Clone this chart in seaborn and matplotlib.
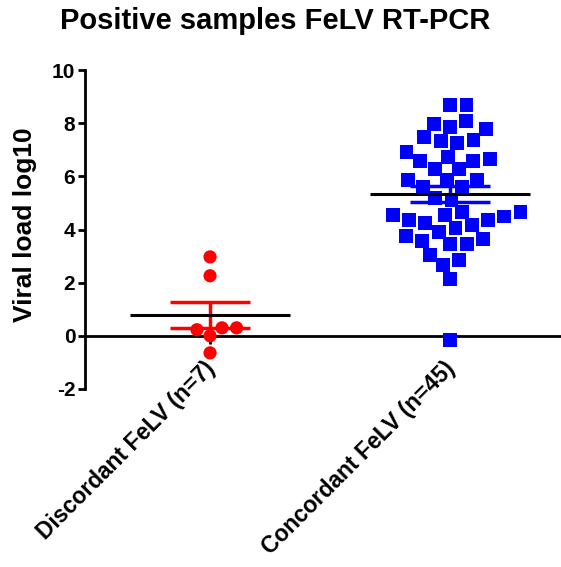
import numpy as np
import pandas as pd
import matplotlib
matplotlib.use("Agg")
import matplotlib.pyplot as plt
import matplotlib.transforms as mtransforms
import seaborn as sns

categories = ["Discordant FeLV (n=7)", "Concordant FeLV (n=45)"]
discordant = [2.97, 2.26, 0.30, 0.23, 0.30, 0.00, -0.64]
concordant = [8.68, 8.68, 7.96, 7.78, 8.08, 7.85, 7.34, 7.24, 7.37, 7.47,
              6.93, 6.74, 6.58, 6.28, 6.28, 6.58, 6.64, 5.86, 5.86, 5.59,
              5.59, 5.86, 5.11, 4.65, 4.55, 4.55, 4.65, 4.36, 4.24, 4.07,
              3.92, 4.17, 4.36, 4.49, 3.65, 3.46, 3.05, 3.46, 3.58, 3.76,
              2.67, 2.86, 2.13, -0.15, 5.18]
colors = ["#ff0000", "#0000ff"]
markers = ["o", "s"]
yticks = [-2, 0, 2, 4, 6, 8, 10]

sns.set_style("white")
plt.rcParams["font.family"] = ["Liberation Sans", "DejaVu Sans"]
plt.rcParams["font.weight"] = "bold"
plt.rcParams["text.color"] = "black"
plt.rcParams["xtick.color"] = "black"
plt.rcParams["ytick.color"] = "black"
plt.rcParams["axes.labelcolor"] = "black"

df = pd.DataFrame({
    "group": [categories[0]] * len(discordant) + [categories[1]] * len(concordant),
    "value": discordant + concordant,
})

fig = plt.figure(figsize=(5.61, 5.67), dpi=100)
ax = fig.add_axes([85 / 561, 1 - 389 / 567, (560 - 85) / 561, (389 - 70) / 567])

msize = [9.5, 10]
spacing = [0.5, 1.5]
for i, cat in enumerate(categories):
    sub = df[df["group"] == cat]
    sns.swarmplot(data=sub, x="group", y="value", order=categories, ax=ax,
                  color=colors[i], marker=markers[i], size=msize[i],
                  linewidth=spacing[i], edgecolor="none", zorder=3)

for i, cat in enumerate(categories):
    vals = np.array(df.loc[df["group"] == cat, "value"])
    m = vals.mean()
    sem = vals.std(ddof=1) / np.sqrt(len(vals))
    ax.errorbar([i], [m], yerr=[sem], color=colors[i], elinewidth=2.5,
                capsize=29, capthick=2.5, fmt="none", zorder=4)
    ax.hlines(m, i - 0.333, i + 0.333, color="black", linewidth=2.2, zorder=5)

ax.set_xlim(-0.521, 1.458)
ax.set_ylim(-2, 10)
ax.set_yticks(yticks)
ax.set_yticklabels([str(t) for t in yticks], fontsize=15, fontweight="bold")
ax.set_xlabel("")
ax.set_ylabel("")

for s in ["top", "right"]:
    ax.spines[s].set_visible(False)
ax.spines["left"].set_linewidth(2)
ax.spines["left"].set_color("black")
ax.spines["bottom"].set_position(("data", 0))
ax.spines["bottom"].set_linewidth(2)
ax.spines["bottom"].set_color("black")

ax.tick_params(axis="y", direction="out", length=5, width=2, color="black", pad=2, left=True)
ax.tick_params(axis="x", direction="out", length=6, width=2, color="black", pad=9, bottom=True)
ax.set_xticks([0, 1])
ax.set_xticklabels(categories, rotation=45, ha="right", rotation_mode="anchor",
                   fontsize=16.5, fontweight="bold")
shift = mtransforms.ScaledTranslation(-7 / 100, 0, fig.dpi_scale_trans)
for lbl in ax.get_xticklabels():
    lbl.set_transform(lbl.get_transform() + shift)

fig.text(275 / 561, 1 - 21 / 567, "Positive samples FeLV RT-PCR", ha="center",
         va="center", fontsize=21, fontweight="bold")
fig.text(25 / 561, 1 - 225 / 567, "Viral load log10", rotation=90, ha="center",
         va="center", fontsize=19, fontweight="bold")

fig.savefig("out.png", dpi=100)
